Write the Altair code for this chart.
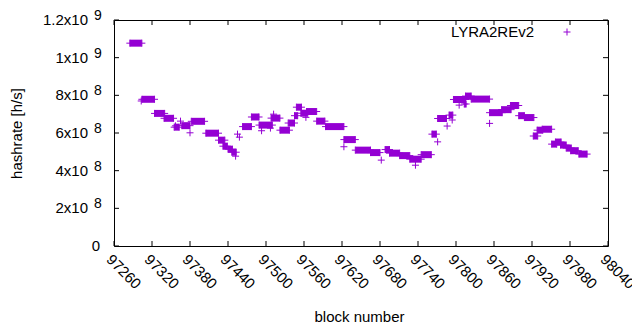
import altair as alt
import pandas as pd

# --- data (hashrate in units of 1e8 h/s) ---
seg_start = [97285, 97304, 97324, 97339, 97355, 97367, 97382, 97405, 97425, 97432,
             97440, 97446, 97463, 97477, 97489, 97508, 97522, 97535, 97545, 97548,
             97555, 97564, 97580, 97594, 97623, 97641, 97665, 97688, 97695, 97711,
             97727, 97745, 97762, 97771, 97789, 97796, 97813, 97815, 97824, 97853,
             97872, 97886, 97899, 97908, 97922, 97928, 97936, 97951, 97957, 97965,
             97974, 97981, 97994]
seg_end = [97304, 97324, 97340, 97354, 97363, 97380, 97403, 97425, 97435, 97439,
           97447, 97453, 97477, 97489, 97510, 97522, 97537, 97545, 97550, 97556,
           97566, 97580, 97593, 97623, 97641, 97665, 97680, 97695, 97711, 97727,
           97745, 97761, 97769, 97785, 97795, 97815, 97816, 97824, 97853, 97873,
           97887, 97899, 97908, 97923, 97929, 97937, 97951, 97959, 97966, 97974,
           97982, 97993, 98007]
seg_value = [10.77, 7.79, 7.04, 6.78, 6.31, 6.39, 6.62, 5.99, 5.62, 5.30,
             5.14, 4.98, 6.34, 6.85, 6.42, 6.79, 6.15, 6.53, 6.92, 7.37,
             7.05, 7.14, 6.63, 6.34, 5.65, 5.09, 4.96, 5.12, 4.93, 4.80,
             4.61, 4.85, 5.94, 6.77, 6.95, 7.78, 7.54, 7.96, 7.80, 7.08,
             7.24, 7.46, 6.92, 6.82, 5.84, 6.15, 6.20, 5.41, 5.52, 5.36,
             5.20, 5.06, 4.88]

single_block = [97303, 97357, 97365, 97380, 97452, 97455, 97458, 97493, 97507, 97512,
                97563, 97623, 97682, 97736, 97771, 97786, 97794, 97805, 97853]
single_value = [7.70, 6.38, 6.63, 6.01, 4.77, 5.94, 5.78, 6.12, 6.26, 7.00,
                6.83, 5.27, 4.56, 4.29, 5.53, 6.37, 6.69, 7.48, 6.51]

x_ticks = [97260, 97320, 97380, 97440, 97500, 97560, 97620, 97680, 97740,
           97800, 97860, 97920, 97980, 98040]
y_ticks = [0, 2e8, 4e8, 6e8, 8e8, 1e9, 1.2e9]
y_mant = ["0", "2x10", "4x10", "6x10", "8x10", "1x10", "1.2x10"]
y_exp = ["", "8", "8", "8", "8", "9", "9"]

series_name = "LYRA2REv2"
COLOR = "#9400D3"
FONT = "Liberation Sans"
FS = 15
W, H = 494, 226
TICK = 5

segs = pd.DataFrame({"start": seg_start, "end": seg_end,
                     "v": [v * 1e8 for v in seg_value]})
ends = pd.DataFrame({"block": seg_start + seg_end + single_block,
                     "v": [v * 1e8 for v in seg_value + seg_value + single_value]})
xt = pd.DataFrame({"t": x_ticks, "lab": [str(t) for t in x_ticks]})
yt = pd.DataFrame({"t": y_ticks, "mant": y_mant, "exp": y_exp})

xs = alt.Scale(domain=[x_ticks[0], x_ticks[-1]], nice=False, zero=False)
ys = alt.Scale(domain=[0, 1.2e9], nice=False, zero=True)

plus = "M-1,0L1,0M0,-1L0,1"

bars = alt.Chart(segs).mark_rule(color=COLOR, strokeWidth=7, strokeCap="butt").encode(
    x=alt.X("start:Q", scale=xs,
            axis=alt.Axis(labels=False, ticks=False, domain=False, grid=False,
                          title="block number", titleX=245, titleY=70,
                          titleBaseline="middle", titleFontWeight="normal")),
    x2="end:Q",
    y=alt.Y("v:Q", scale=ys,
            axis=alt.Axis(labels=False, ticks=False, domain=False, grid=False,
                          title="hashrate [h/s]", titleX=-97.5, titleY=113,
                          titleAngle=-90, titleBaseline="middle", titleAlign="center",
                          titleFontWeight="normal")),
)

pts = alt.Chart(ends).mark_point(shape=plus, size=49, filled=False, color=COLOR,
                                 strokeWidth=1, opacity=1).encode(
    x=alt.X("block:Q", scale=xs), y=alt.Y("v:Q", scale=ys))

tick_bottom = alt.Chart(xt).mark_rule(color="black", strokeWidth=1).encode(
    x=alt.X("t:Q", scale=xs), y=alt.value(H), y2=alt.value(H - TICK))
tick_top = alt.Chart(xt).mark_rule(color="black", strokeWidth=1).encode(
    x=alt.X("t:Q", scale=xs), y=alt.value(0), y2=alt.value(TICK))
tick_left = alt.Chart(yt).mark_rule(color="black", strokeWidth=1).encode(
    y=alt.Y("t:Q", scale=ys), x=alt.value(0), x2=alt.value(TICK))
tick_right = alt.Chart(yt).mark_rule(color="black", strokeWidth=1).encode(
    y=alt.Y("t:Q", scale=ys), x=alt.value(W), x2=alt.value(W - TICK))

xlab = alt.Chart(xt).mark_text(align="left", baseline="top", angle=45, font=FONT,
                               fontSize=FS, color="black").encode(
    x=alt.X("t:Q", scale=xs), y=alt.value(H + 6), text="lab:N")

mant = alt.Chart(yt).transform_filter("datum.t > 0").mark_text(
    align="right", baseline="middle", font=FONT, fontSize=FS, color="black").encode(
    y=alt.Y("t:Q", scale=ys), x=alt.value(-26), text="mant:N")
expo = alt.Chart(yt).transform_filter("datum.t > 0").mark_text(
    align="left", baseline="middle", font=FONT, fontSize=FS - 1, color="black", dy=-4).encode(
    y=alt.Y("t:Q", scale=ys), x=alt.value(-20), text="exp:N")
zero = alt.Chart(yt).transform_filter("datum.t == 0").mark_text(
    align="right", baseline="middle", font=FONT, fontSize=FS, color="black").encode(
    y=alt.Y("t:Q", scale=ys), x=alt.value(-14), text="mant:N")

leg = pd.DataFrame({"name": [series_name]})
leg_text = alt.Chart(leg).mark_text(align="right", baseline="middle", font=FONT,
                                    fontSize=FS, color="black").encode(
    x=alt.value(420), y=alt.value(12), text="name:N")
leg_pt = alt.Chart(leg).mark_point(shape=plus, size=49, filled=False, color=COLOR,
                                   strokeWidth=1, opacity=1).encode(
    x=alt.value(453), y=alt.value(12))

chart = alt.layer(bars, pts, tick_bottom, tick_top, tick_left, tick_right, xlab,
                  mant, expo, zero, leg_text, leg_pt).properties(
    width=W, height=H,
    autosize=alt.AutoSizeParams(type="none"),
    padding={"left": 106, "top": 12, "right": 24, "bottom": 84},
    background="white",
).configure_view(stroke="black", strokeWidth=1).configure_axis(
    labelFont=FONT, labelFontSize=FS, labelColor="black",
    titleFont=FONT, titleFontSize=FS, titleColor="black")

chart.save("out.html", embed_options={"renderer": "svg", "actions": False})
